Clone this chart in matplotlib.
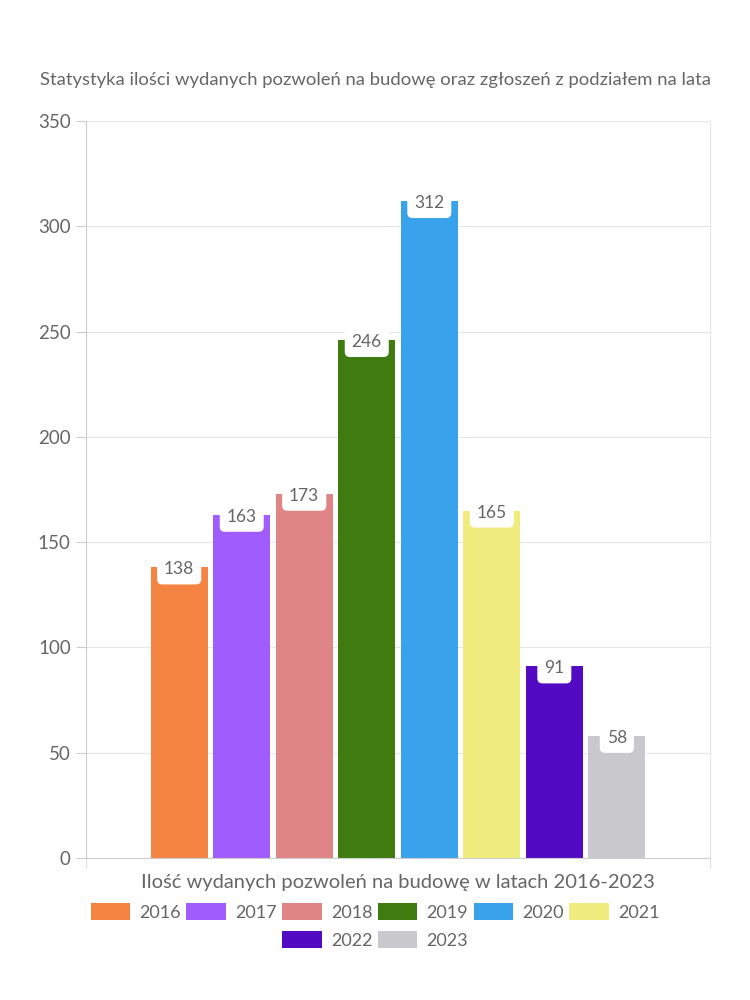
import matplotlib
matplotlib.use("Agg")
import matplotlib.pyplot as plt
from matplotlib.patches import Patch
import numpy as np

plt.rcParams['font.family'] = ['Lato', 'DejaVu Sans']

years = ["2016", "2017", "2018", "2019", "2020", "2021", "2022", "2023"]
values = [138, 163, 173, 246, 312, 165, 91, 58]
colors = ["#F58442", "#A05CFC", "#E08585", "#3F7B0E", "#38A2EA", "#F0EC7E", "#520BC2", "#C9C9CD"]
title = "Statystyka ilości wydanych pozwoleń na budowę oraz zgłoszeń z podziałem na lata"
xlabel = "Ilość wydanych pozwoleń na budowę w latach 2016-2023"
yticks = [0, 50, 100, 150, 200, 250, 300, 350]

TXT = "#666666"
fig = plt.figure(figsize=(7.5, 10), dpi=100)
ax = fig.add_axes([0.1147, 0.142, 0.832, 0.737])

n = len(values)
step = 0.1002
width = 0.0913
offsets = (np.arange(n) - (n - 1) / 2) * step
for off, v, c in zip(offsets, values, colors):
    ax.bar(off, v, width=width, color=c, zorder=2)
    ax.annotate(str(v), (off, v), xytext=(0, -1.5), textcoords='offset points',
                ha='center', va='center', fontsize=12.5, color=TXT, zorder=4,
                bbox=dict(boxstyle='round,pad=0.4,rounding_size=0.3', fc='white', ec='none'))

ax.set_xlim(-0.5, 0.5)
ax.set_ylim(0, 350)
ax.set_yticks(yticks)
ax.set_yticklabels([str(t) for t in yticks], fontsize=13.5, color=TXT)
ax.set_xticks([-0.5, 0.5])
ax.set_xticklabels(["", ""])
ax.tick_params(axis='y', length=7, color='#cccccc', pad=4)
ax.tick_params(axis='x', length=7, color='#e0e0e0')
ax.grid(axis='y', color='#e6e6e6', linewidth=0.8, zorder=0)
ax.set_axisbelow(True)
for s in ['left', 'bottom']:
    ax.spines[s].set_color('#cccccc')
ax.spines['right'].set_color('#e6e6e6')
ax.spines['top'].set_visible(False)
ax.set_xlabel(xlabel, fontsize=14.5, color=TXT, labelpad=1)

fig.text(0.5, 0.92, title, ha='center', va='center', fontsize=13.3, color=TXT)

handles = [Patch(facecolor=c, edgecolor='none') for c in colors]
kw = dict(frameon=False, handlelength=2.2, handleheight=1.0, handletextpad=0.5,
          columnspacing=0.3, prop={'size': 13}, labelcolor=TXT)
fig.legend(handles[:6], years[:6], ncol=6, loc='center', bbox_to_anchor=(0.5, 0.088), **kw)
fig.legend(handles[6:], years[6:], ncol=2, loc='center', bbox_to_anchor=(0.5, 0.06), **kw)

fig.savefig("out.png", dpi=100)
